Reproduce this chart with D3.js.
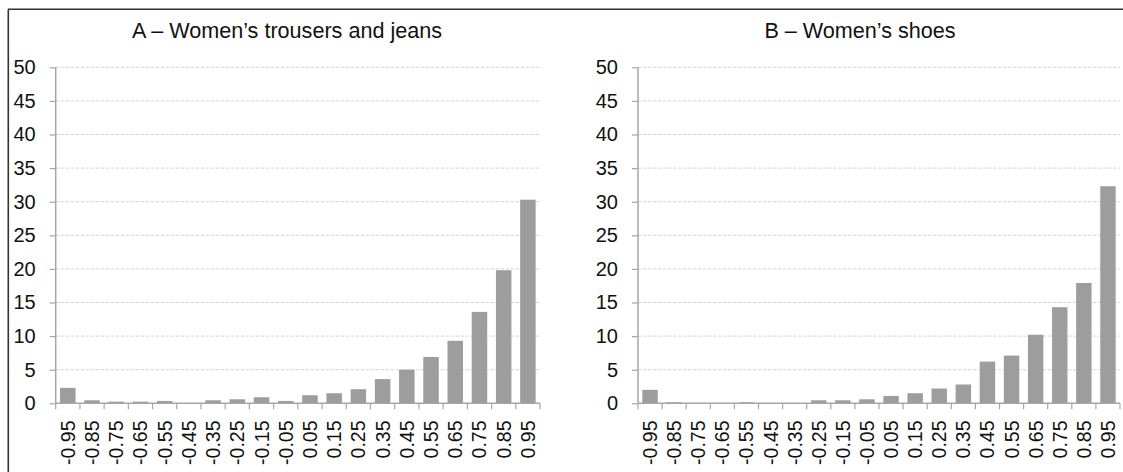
<!DOCTYPE html>
<html>
<head>
<meta charset="utf-8">
<script src="https://cdn.jsdelivr.net/npm/d3@7"></script>
<style>
  html, body { margin: 0; padding: 0; background: #fff; }
  svg { display: block; font-family: "Liberation Sans", Arial, Helvetica, sans-serif; }
</style>
</head>
<body>
<svg id="chart" width="1123" height="472"></svg>
<script>
// Correlation bins (bin centres) shared by both histograms
const bins = ["-0.95", "-0.85", "-0.75", "-0.65", "-0.55", "-0.45", "-0.35", "-0.25", "-0.15", "-0.05",
              "0.05", "0.15", "0.25", "0.35", "0.45", "0.55", "0.65", "0.75", "0.85", "0.95"];

// Share of products per bin (%)
const trousersValues = [2.3, 0.45, 0.25, 0.25, 0.35, 0, 0.45, 0.6, 0.9, 0.35,
                        1.2, 1.5, 2.1, 3.6, 5.0, 6.9, 9.3, 13.6, 19.8, 30.3];
const shoesValues = [2.0, 0.15, 0.05, 0.05, 0.15, 0, 0, 0.45, 0.45, 0.6,
                     1.1, 1.5, 2.2, 2.8, 6.2, 7.1, 10.2, 14.3, 17.9, 32.3];

const yTicks = [0, 5, 10, 15, 20, 25, 30, 35, 40, 45, 50];

const panelTitles = ["A \u2013 Women\u2019s trousers and jeans", "B \u2013 Women\u2019s shoes"];

const svg = d3.select("#chart");

// Panel layout: plot area and title centre for each histogram
const panels = [
  { title: panelTitles[0], values: trousersValues, x0: 55.7, x1: 540, titleX: 287 },
  { title: panelTitles[1], values: shoesValues, x0: 638, x1: 1120, titleX: 860 }
];

const yTop = 67.3, yBottom = 403.3;
const y = d3.scaleLinear().domain([0, 50]).range([yBottom, yTop]);

const axisColor = "#a6a6a6";
const gridColor = "#d4d4d4";
const barColor = "#9d9d9d";

panels.forEach(p => {
  const g = svg.append("g");
  const x = d3.scaleBand().domain(bins).range([p.x0, p.x1]).paddingInner(0.36).paddingOuter(0.18);
  const xb = d3.scaleBand().domain(bins).range([p.x0, p.x1]);

  // Dashed horizontal gridlines
  g.append("g").selectAll("line").data(yTicks.filter(d => d > 0)).join("line")
    .attr("x1", p.x0).attr("x2", p.x1)
    .attr("y1", d => y(d)).attr("y2", d => y(d))
    .attr("stroke", gridColor).attr("stroke-width", 1)
    .attr("stroke-dasharray", "3.5,1.5");

  // Bars
  g.append("g").selectAll("rect").data(p.values).join("rect")
    .attr("x", (d, i) => x(bins[i]))
    .attr("width", x.bandwidth())
    .attr("y", d => y(d))
    .attr("height", d => yBottom - y(d))
    .attr("fill", barColor);

  // Y axis
  const yAxis = d3.axisLeft(y).tickValues(yTicks).tickSize(6).tickPadding(14).tickFormat(d3.format("d"));
  const ya = g.append("g").attr("transform", `translate(${p.x0},0)`).call(yAxis);
  ya.select(".domain").attr("stroke", axisColor).attr("stroke-width", 1.5).attr("d", `M-0,${yTop}V${yBottom}`);
  ya.selectAll(".tick line").attr("stroke", axisColor).attr("stroke-width", 1.2);
  ya.selectAll(".tick text").attr("font-size", 20).attr("fill", "#111")
    .attr("font-family", "\"Liberation Sans\", Arial, Helvetica, sans-serif");

  // X axis: ticks on the bin boundaries
  const boundaries = d3.range(bins.length + 1).map(i => i === bins.length ? p.x1 : xb(bins[i]));
  g.append("line")
    .attr("x1", p.x0).attr("x2", p.x1).attr("y1", yBottom).attr("y2", yBottom)
    .attr("stroke", axisColor).attr("stroke-width", 1.5);
  g.append("g").selectAll("line").data(boundaries).join("line")
    .attr("x1", d => d).attr("x2", d => d)
    .attr("y1", yBottom).attr("y2", yBottom + 6)
    .attr("stroke", axisColor).attr("stroke-width", 1.2);

  // Rotated bin labels
  g.append("g").selectAll("text").data(bins).join("text")
    .attr("transform", d => `translate(${xb(d) + xb.bandwidth() / 2},420.5) rotate(-90)`)
    .attr("text-anchor", "end")
    .attr("dy", "0.36em")
    .attr("font-size", 19.5)
    .attr("fill", "#111")
    .text(d => d);

  // Panel title
  g.append("text")
    .attr("x", p.titleX).attr("y", 37.6)
    .attr("text-anchor", "middle")
    .attr("font-size", 21.6)
    .attr("fill", "#111")
    .text(p.title);
});

// Frame lines along the top and left edges
svg.append("line").attr("x1", 8).attr("x2", 1123).attr("y1", 9.3).attr("y2", 9.3)
  .attr("stroke", "#333").attr("stroke-width", 1.6);
svg.append("line").attr("x1", 8.3).attr("x2", 8.3).attr("y1", 9.3).attr("y2", 472)
  .attr("stroke", "#333").attr("stroke-width", 1.6);
</script>
</body>
</html>
